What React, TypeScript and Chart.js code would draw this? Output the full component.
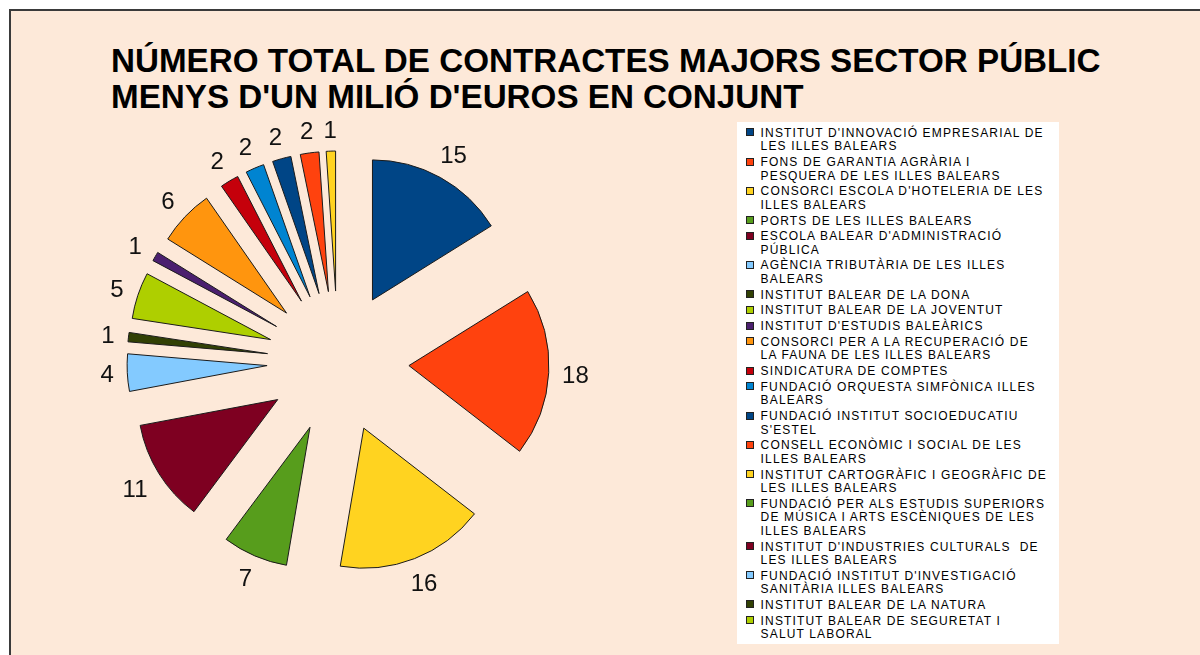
import React, { useEffect, useRef } from 'react';
import { Chart, registerables } from 'chart.js';

Chart.register(...registerables);

const TITLE_LINES = ['NÚMERO TOTAL DE CONTRACTES MAJORS SECTOR PÚBLIC', "MENYS D'UN MILIÓ D'EUROS EN CONJUNT"];

const ENTITIES = [
  "INSTITUT D'INNOVACIÓ EMPRESARIAL DE\nLES ILLES BALEARS",
  'FONS DE GARANTIA AGRÀRIA I\nPESQUERA DE LES ILLES BALEARS',
  "CONSORCI ESCOLA D'HOTELERIA DE LES\nILLES BALEARS",
  'PORTS DE LES ILLES BALEARS',
  "ESCOLA BALEAR D'ADMINISTRACIÓ\nPÚBLICA",
  'AGÈNCIA TRIBUTÀRIA DE LES ILLES\nBALEARS',
  'INSTITUT BALEAR DE LA DONA',
  'INSTITUT BALEAR DE LA JOVENTUT',
  "INSTITUT D'ESTUDIS BALEÀRICS",
  'CONSORCI PER A LA RECUPERACIÓ DE\nLA FAUNA DE LES ILLES BALEARS',
  'SINDICATURA DE COMPTES',
  'FUNDACIÓ ORQUESTA SIMFÒNICA ILLES\nBALEARS',
  "FUNDACIÓ INSTITUT SOCIOEDUCATIU\nS'ESTEL",
  'CONSELL ECONÒMIC I SOCIAL DE LES\nILLES BALEARS',
  'INSTITUT CARTOGRÀFIC I GEOGRÀFIC DE\nLES ILLES BALEARS',
  'FUNDACIÓ PER ALS ESTUDIS SUPERIORS\nDE MÚSICA I ARTS ESCÈNIQUES DE LES\nILLES BALEARS',
  "INSTITUT D'INDUSTRIES CULTURALS  DE\nLES ILLES BALEARS",
  "FUNDACIÓ INSTITUT D'INVESTIGACIÓ\nSANITÀRIA ILLES BALEARS",
  'INSTITUT BALEAR DE LA NATURA',
  'INSTITUT BALEAR DE SEGURETAT I\nSALUT LABORAL',
];

const CONTRACTS = [15, 18, 16, 7, 11, 4, 1, 5, 1, 6, 2, 2, 2, 2, 1, 0, 0, 0, 0, 0];

const PALETTE = [
  '#004586', '#ff420e', '#ffd320', '#579d1c', '#7e0021', '#83caff',
  '#314004', '#aecf00', '#4b1f6f', '#ff950e', '#c5000b', '#0084d1',
];

const EXPLODE = 71;
const LABEL_GAP = 13;
const LINE_STEP = 13.5;
const ENTRY_STEP = 15.73;
const FONT = '"Liberation Sans", Arial, Helvetica, sans-serif';

const explodedPiePlugin = {
  id: 'explodedPie',
  beforeDatasetDraw(chart: any, args: any) {
    const ctx = chart.ctx;
    const meta = args.meta;
    meta.data.forEach((arc: any) => {
      const mid = (arc.startAngle + arc.endAngle) / 2;
      ctx.save();
      ctx.translate(Math.cos(mid) * EXPLODE, Math.sin(mid) * EXPLODE);
      arc.draw(ctx);
      ctx.restore();
    });
    ctx.save();
    ctx.font = `24px ${FONT}`;
    ctx.fillStyle = '#111';
    ctx.textAlign = 'center';
    ctx.textBaseline = 'alphabetic';
    const capH = 0.716 * 24;
    meta.data.forEach((arc: any, i: number) => {
      const v = chart.data.datasets[0].data[i];
      if (!v) return;
      const mid = (arc.startAngle + arc.endAngle) / 2;
      const cx = Math.cos(mid);
      const sy = Math.sin(mid);
      const text = String(v);
      const w = ctx.measureText(text).width;
      const dist = EXPLODE + arc.outerRadius + LABEL_GAP + Math.abs(cx) * w / 2 + Math.abs(sy) * capH / 2;
      ctx.fillText(text, arc.x + cx * dist, arc.y + sy * dist + capH / 2);
    });
    ctx.restore();
    return false;
  },
};

export default function App() {
  const canvasRef = useRef<HTMLCanvasElement | null>(null);

  useEffect(() => {
    if (!canvasRef.current) return;
    const chart = new Chart(canvasRef.current, {
      type: 'pie',
      data: {
        labels: ENTITIES.map((e) => e.replace(/\n/g, ' ')),
        datasets: [
          {
            data: CONTRACTS,
            backgroundColor: ENTITIES.map((_, i) => PALETTE[i % PALETTE.length]),
            borderColor: '#1a1a1a',
            borderWidth: 1,
            radius: 140,
          } as any,
        ],
      },
      options: {
        responsive: false,
        maintainAspectRatio: false,
        animation: false,
        layout: { padding: { left: 0, top: 69, right: 524, bottom: 0 } },
        plugins: {
          legend: { display: false },
          tooltip: { enabled: false },
          title: { display: false },
        },
      },
      plugins: [explodedPiePlugin],
    });
    return () => chart.destroy();
  }, []);

  let y = 3.84;
  const legendLines: { text: string; top: number; entry: number; first: boolean }[] = [];
  ENTITIES.forEach((e, i) => {
    const parts = e.split('\n');
    parts.forEach((line, j) => {
      legendLines.push({ text: line, top: y, entry: i, first: j === 0 });
      y += j === parts.length - 1 ? ENTRY_STEP : LINE_STEP;
    });
  });

  return (
    <div style={{ position: 'fixed', left: 0, top: 0, width: 1200, height: 655, background: '#fff', overflow: 'hidden' }}>
      <div
        style={{
          position: 'absolute',
          left: 9,
          top: 9,
          right: 0,
          bottom: 0,
          background: '#fde9d9',
          borderLeft: '2px solid #3a3a3a',
          borderTop: '2px solid #3a3a3a',
        }}
      />
      <div
        style={{
          position: 'absolute',
          left: 111,
          top: 43,
          fontFamily: FONT,
          fontWeight: 'bold',
          fontSize: 33.2,
          lineHeight: '35.5px',
          color: '#000',
          whiteSpace: 'nowrap',
        }}
      >
        {TITLE_LINES.map((t, i) => (
          <div key={i}>{t}</div>
        ))}
      </div>
      <canvas ref={canvasRef} width={1200} height={655} style={{ position: 'absolute', left: 0, top: 0, width: 1200, height: 655 }} />
      <div
        style={{
          position: 'absolute',
          left: 737,
          top: 122,
          width: 322,
          height: 522,
          background: '#fff',
          fontFamily: FONT,
          fontSize: 12,
          letterSpacing: '1.15px',
          color: '#000',
        }}
      >
        {legendLines.map((l, k) => (
          <div
            key={k}
            style={{
              position: 'absolute',
              left: 23.6,
              top: l.top,
              height: 14,
              lineHeight: '14px',
              whiteSpace: 'pre',
            }}
          >
            {l.first && (
              <span
                style={{
                  position: 'absolute',
                  left: -14.9,
                  top: 2.5,
                  width: 6,
                  height: 6,
                  background: PALETTE[l.entry % PALETTE.length],
                  border: '1px solid #222',
                }}
              />
            )}
            {l.text}
          </div>
        ))}
      </div>
    </div>
  );
}
